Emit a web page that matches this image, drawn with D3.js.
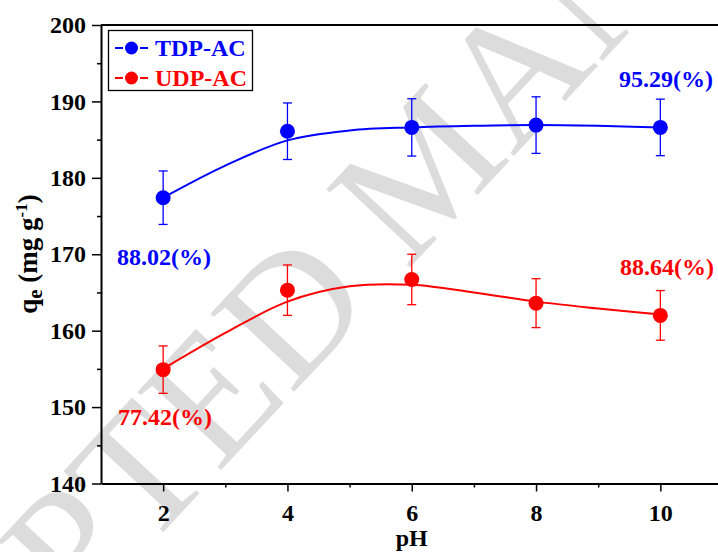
<!DOCTYPE html>
<html>
<head>
<meta charset="utf-8">
<script src="https://cdn.jsdelivr.net/npm/d3@7"></script>
<style>
  html, body { margin: 0; padding: 0; background: #fff; overflow: hidden; }
  svg { display: block; }
  text { font-family: "Liberation Serif", "Times New Roman", serif; font-weight: bold; }
</style>
</head>
<body>
<svg id="chart" width="718" height="552"></svg>
<script>
// Measured pH values
const phValues = [2, 4, 6, 8, 10];

// Adsorption capacity qe (mg/g) and error (±)
const tdpQe  = [177.4, 186.1, 186.6, 186.9, 186.6];
const tdpErr = [3.5, 3.7, 3.75, 3.7, 3.7];
const udpQe  = [154.9, 165.3, 166.7, 163.6, 162.0];
const udpErr = [3.1, 3.3, 3.3, 3.2, 3.25];

// Fitted trend curves sampled at each integer pH
const fitPh  = [2, 3, 4, 5, 6, 7, 8, 9, 10];
const tdpFit = [177.4, 181.6, 184.9, 186.2, 186.6, 186.8, 186.9, 186.8, 186.6];
const udpFit = [155.0, 159.7, 163.8, 165.8, 166.0, 165.0, 163.8, 162.9, 162.1];

// Removal efficiency annotations
const tdpLabels = [{ ph: 2, text: "88.02(%)" }, { ph: 10, text: "95.29(%)" }];
const udpLabels = [{ ph: 2, text: "77.42(%)" }, { ph: 10, text: "88.64(%)" }];

// Axis ticks
const xMajor = [2, 4, 6, 8, 10];
const xMinor = [3, 5, 7, 9];
const yMajor = [140, 150, 160, 170, 180, 190, 200];
const yMinor = [145, 155, 165, 175, 185, 195];

const BLUE = "#0000ff", RED = "#ff0000";

const svg = d3.select("#chart");
const x = d3.scaleLinear().domain([1, 11]).range([101, 722.5]);
const y = d3.scaleLinear().domain([140, 200]).range([483.5, 25]);

// Background watermark
svg.append("text")
  .attr("transform", "translate(425,165) rotate(-47)")
  .attr("text-anchor", "middle")
  .attr("dominant-baseline", "central")
  .style("font-weight", "normal")
  .style("font-size", "175px")
  .attr("fill", "#dcdcdc")
  .text("ACCEPTED MANUSCRIPT");

// Frame (top/right)
svg.append("path")
  .attr("d", `M${x(1)},${y(200)}H${x(11)}V${y(140)}`)
  .attr("fill", "none").attr("stroke", "#000").attr("stroke-width", 2);

// Axes
const axisStyle = g => {
  g.select(".domain").attr("stroke-width", 2);
  g.selectAll(".tick line").attr("stroke-width", 1.5);
  g.selectAll("text").style("font-size", "24px").attr("fill", "#000");
};
svg.append("g").attr("transform", `translate(0,${y(140)})`)
  .call(d3.axisBottom(x).tickValues(xMinor).tickSize(4).tickSizeOuter(0).tickFormat(""))
  .call(g => g.select(".domain").remove())
  .call(g => g.selectAll(".tick line").attr("stroke-width", 1.5));
svg.append("g").attr("transform", `translate(0,${y(140)})`)
  .call(d3.axisBottom(x).tickValues(xMajor).tickSize(8).tickSizeOuter(0).tickPadding(12).tickFormat(d3.format("d")))
  .call(axisStyle);
svg.append("g").attr("transform", `translate(${x(1)},0)`)
  .call(d3.axisLeft(y).tickValues(yMinor).tickSize(4).tickSizeOuter(0).tickFormat(""))
  .call(g => g.select(".domain").remove())
  .call(g => g.selectAll(".tick line").attr("stroke-width", 1.5));
svg.append("g").attr("transform", `translate(${x(1)},0)`)
  .call(d3.axisLeft(y).tickValues(yMajor).tickSize(9).tickSizeOuter(0).tickPadding(6).tickFormat(d3.format("d")))
  .call(axisStyle);

// Axis titles
svg.append("text")
  .attr("x", x(6)).attr("y", 546)
  .attr("text-anchor", "middle").style("font-size", "24px")
  .text("pH");
const yt = svg.append("text")
  .attr("transform", "translate(37,254) rotate(-90)")
  .attr("text-anchor", "middle").style("font-size", "27px");
yt.append("tspan").text("q");
yt.append("tspan").attr("dy", 5).style("font-size", "21px").text("e");
yt.append("tspan").attr("dy", -5).text(" (mg g");
yt.append("tspan").attr("dy", -10).style("font-size", "17px").text("-1");
yt.append("tspan").attr("dy", 10).text(")");

// Series
function drawSeries(qe, err, fit, color) {
  const g = svg.append("g");
  g.append("path")
    .datum(fitPh.map((p, i) => [p, fit[i]]))
    .attr("d", d3.line().x(d => x(d[0])).y(d => y(d[1])).curve(d3.curveCatmullRom))
    .attr("fill", "none").attr("stroke", color).attr("stroke-width", 2);
  const eb = g.selectAll(".eb").data(phValues.map((p, i) => ({ p, v: qe[i], e: err[i] })))
    .enter().append("g");
  eb.append("line")
    .attr("x1", d => x(d.p)).attr("x2", d => x(d.p))
    .attr("y1", d => y(d.v + d.e)).attr("y2", d => y(d.v - d.e))
    .attr("stroke", color).attr("stroke-width", 1.3);
  [1, -1].forEach(s => eb.append("line")
    .attr("x1", d => x(d.p) - 4.5).attr("x2", d => x(d.p) + 4.5)
    .attr("y1", d => y(d.v + s * d.e)).attr("y2", d => y(d.v + s * d.e))
    .attr("stroke", color).attr("stroke-width", 1.3));
  eb.append("circle")
    .attr("cx", d => x(d.p)).attr("cy", d => y(d.v)).attr("r", 7.5)
    .attr("fill", color);
}
drawSeries(tdpQe, tdpErr, tdpFit, BLUE);
drawSeries(udpQe, udpErr, udpFit, RED);

// Removal efficiency labels
const labelPos = {
  "88.02(%)": [117, 265], "95.29(%)": [619, 87],
  "77.42(%)": [118, 425], "88.64(%)": [620, 275]
};
tdpLabels.concat(udpLabels).forEach(l => {
  const color = tdpLabels.includes(l) ? BLUE : RED;
  svg.append("text")
    .attr("x", labelPos[l.text][0]).attr("y", labelPos[l.text][1])
    .style("font-size", "24px").attr("fill", color).text(l.text);
});

// Legend
const lg = svg.append("g");
lg.append("rect").attr("x", 108.5).attr("y", 30.5).attr("width", 144).attr("height", 60)
  .attr("fill", "#fff").attr("stroke", "#000").attr("stroke-width", 1.3);
[["TDP-AC", BLUE, 48], ["UDP-AC", RED, 78]].forEach(([name, color, cy]) => {
  lg.append("line").attr("x1", 115).attr("x2", 148).attr("y1", cy).attr("y2", cy)
    .attr("stroke", color).attr("stroke-width", 2).attr("stroke-dasharray", "8,17");
  lg.append("circle").attr("cx", 131.5).attr("cy", cy).attr("r", 6.5).attr("fill", color);
  lg.append("text").attr("x", 155).attr("y", cy + 7.5).style("font-size", "24px")
    .attr("fill", color).text(name);
});
</script>
</body>
</html>
